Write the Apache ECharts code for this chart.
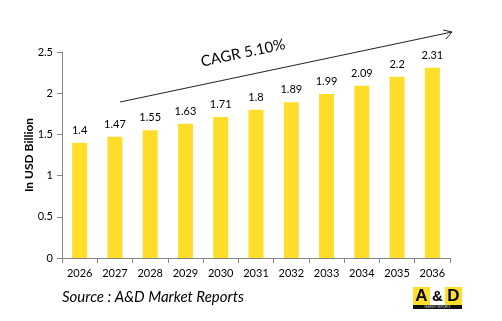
<!DOCTYPE html>
<html><head><meta charset="utf-8">
<script src="https://cdn.jsdelivr.net/npm/echarts@6/dist/echarts.min.js"></script>
<style>html,body{margin:0;padding:0;background:#fff}#c{width:502px;height:321px}</style>
</head><body><div id="c"></div>
<script>
const categories = ['2026','2027','2028','2029','2030','2031','2032','2033','2034','2035','2036'];
const values = [1.4,1.47,1.55,1.63,1.71,1.8,1.89,1.99,2.09,2.2,2.31];
const yTicks = [0,0.5,1,1.5,2,2.5];
const F = 'Lato, "Open Sans", sans-serif';
const chart = echarts.init(document.getElementById('c'));
chart.setOption({
  animation:false,
  grid:{left:62,right:52,top:52,bottom:63},
  xAxis:{type:'category',data:categories,
    axisLine:{lineStyle:{color:'#868686'}},
    axisTick:{show:true,length:5,lineStyle:{color:'#868686'}},
    axisLabel:{color:'#000',fontSize:11,fontFamily:F,margin:10}},
  yAxis:{type:'value',min:0,max:2.5,interval:0.5,
    name:'In USD Billion',nameLocation:'middle',nameGap:27,nameMoveOverlap:false,
    nameTextStyle:{fontSize:12,fontWeight:'bold',color:'#000',fontFamily:F},
    axisLine:{show:true,lineStyle:{color:'#868686'}},
    axisTick:{show:true,length:5,lineStyle:{color:'#868686'}},
    splitLine:{show:false},
    axisLabel:{color:'#000',fontSize:11,fontFamily:F,margin:9,
      formatter:v=>String(yTicks.find(t=>Math.abs(t-v)<1e-9) ?? v)}},
  series:[{type:'bar',data:values,barWidth:15,
    itemStyle:{color:'#FFDD2B'},
    label:{show:true,position:'top',distance:7,color:'#000',fontSize:11,fontFamily:F}}],
  graphic:[
    {type:'line',shape:{x1:120,y1:102,x2:452,y2:32},style:{stroke:'#222',lineWidth:1}},
    {type:'polyline',shape:{points:[[443,30],[452,32],[446,39]]},style:{stroke:'#222',lineWidth:1,fill:null}},
    {type:'text',x:243,y:53,rotation:12*Math.PI/180,
      style:{text:'CAGR 5.10%',fontSize:15,fontFamily:F,fill:'#000',align:'center',verticalAlign:'middle'}},
    {type:'text',x:62,y:297,style:{text:'Source : A&D Market Reports',fontSize:15,fontStyle:'italic',fontFamily:F,fill:'#000',verticalAlign:'middle'}},
    {type:'rect',shape:{x:413,y:287,width:17,height:18},style:{fill:'#FFDD2B'}},
    {type:'rect',shape:{x:430,y:287,width:15,height:18},style:{fill:'#fff'}},
    {type:'rect',shape:{x:445,y:287,width:17,height:18},style:{fill:'#FFDD2B'}},
    {type:'rect',shape:{x:413,y:305,width:49,height:4},style:{fill:'#111'}},
    {type:'text',x:421.5,y:296.5,style:{text:'A',fontSize:17,fontWeight:'bold',fontFamily:'"Liberation Sans",sans-serif',fill:'#000',align:'center',verticalAlign:'middle'}},
    {type:'text',x:437.5,y:296.5,style:{text:'&',fontSize:15,fontWeight:'bold',fontFamily:'"Liberation Sans",sans-serif',fill:'#000',align:'center',verticalAlign:'middle'}},
    {type:'text',x:453.5,y:296.5,style:{text:'D',fontSize:17,fontWeight:'bold',fontFamily:'"Liberation Sans",sans-serif',fill:'#000',align:'center',verticalAlign:'middle'}},
    {type:'text',x:437.5,y:307,style:{text:'MARKET REPORTS',fontSize:3,fontFamily:F,fill:'#ccc',align:'center',verticalAlign:'middle'}}
  ]
});
</script></body></html>
